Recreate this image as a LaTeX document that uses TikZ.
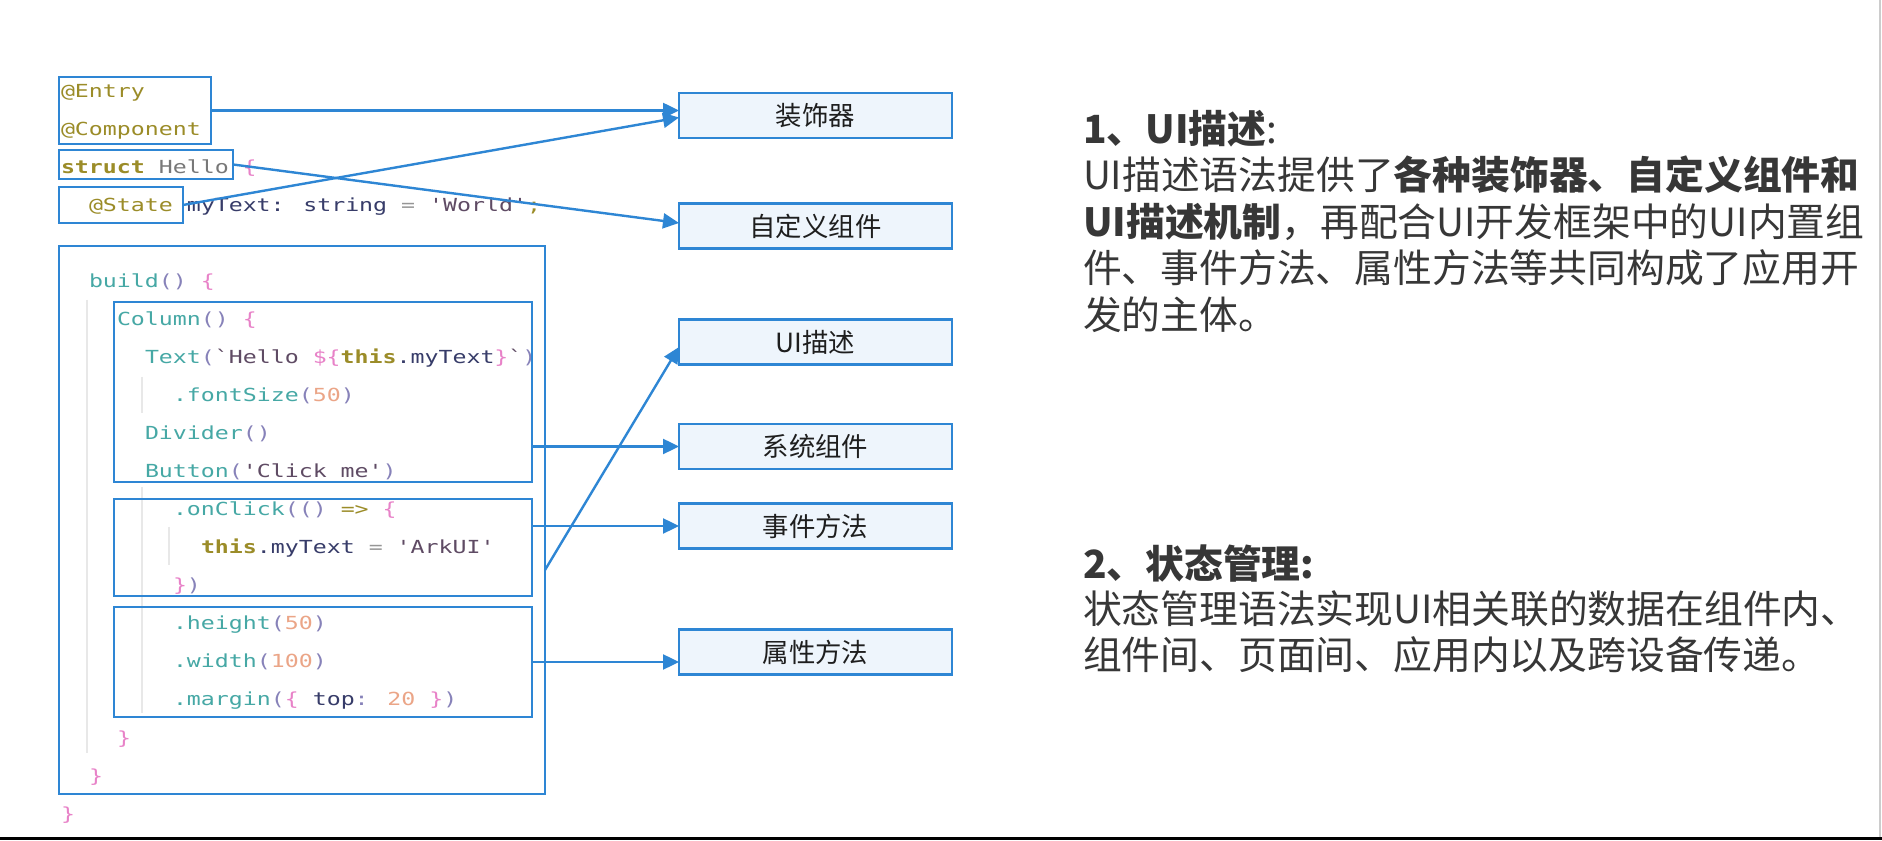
\documentclass[tikz,border=0pt]{standalone}
\usepackage{fontspec}
\setmainfont{Noto Sans CJK SC}
\newfontfamily\codefont{DejaVu Sans Mono}[FakeStretch=1.29,Ligatures=TeXOff]
\usetikzlibrary{arrows.meta}

% token colours of the code listing
\newcommand{\cK}[1]{\textcolor{kwColor}{#1}}
\newcommand{\cF}[1]{\textcolor{fnColor}{#1}}
\newcommand{\cS}[1]{\textcolor{strColor}{#1}}
\newcommand{\cI}[1]{\textcolor{idColor}{#1}}
\newcommand{\cN}[1]{\textcolor{numColor}{#1}}
\newcommand{\cB}[1]{\textcolor{braceColor}{#1}}
\newcommand{\cP}[1]{\textcolor{parenColor}{#1}}
\newcommand{\cG}[1]{\textcolor{greyColor}{#1}}
\newcommand{\cO}[1]{\textcolor{opColor}{#1}}

\begin{document}
\begin{tikzpicture}[x=1pt,y=1pt,
  codebox/.style={draw=boxColor,line width=1.4pt,inner sep=0pt,outer sep=0pt},
  labelbox/.style={draw=boxColor,fill=fillColor,line width=1.4pt,inner sep=0pt,outer sep=0pt,
    minimum width=136.5pt,minimum height=22.5pt,text=labelColor,font=\fontsize{13.2}{15}\selectfont},
  arr/.style={draw=boxColor,line width=1.2pt,-{Triangle[length=8pt,width=7.5pt]}},
  code/.style={anchor=base west,inner sep=0pt,outer sep=0pt,font=\codefont\fontsize{9}{11}\selectfont},
  para/.style={anchor=base west,inner sep=0pt,outer sep=0pt,text=textColor,font=\fontsize{19.4}{23}\selectfont},
  guide/.style={draw=guideColor,line width=1pt}]
\definecolor{bgColor}{RGB}{255,255,255}
\definecolor{boxColor}{RGB}{46,134,212}
\definecolor{fillColor}{RGB}{238,245,252}
\definecolor{labelColor}{RGB}{30,30,30}
\definecolor{textColor}{RGB}{55,55,55}
\definecolor{guideColor}{RGB}{232,232,232}
\definecolor{kwColor}{RGB}{155,140,40}
\definecolor{fnColor}{RGB}{70,168,165}
\definecolor{strColor}{RGB}{95,75,100}
\definecolor{idColor}{RGB}{55,60,105}
\definecolor{numColor}{RGB}{235,165,135}
\definecolor{braceColor}{RGB}{232,130,200}
\definecolor{parenColor}{RGB}{135,130,185}
\definecolor{greyColor}{RGB}{120,120,120}
\definecolor{opColor}{RGB}{150,150,150}
\path[use as bounding box,fill=bgColor] (0,0) rectangle (941,420);

% indent guides
\draw[guide] (43.5,270) -- (43.5,43.5);
\draw[guide] (71,231.5) -- (71,213.5);
\draw[guide] (71,176.5) -- (71,63.5);
\draw[guide] (84.5,156.5) -- (84.5,137.5);

% code listing
\node[code] (c0) at (30.5,371) {\cK{@Entry}};
\node[code] (c1) at (30.5,352) {\cK{@Component}};
\node[code] (c2) at (30.5,333) {\cK{\bfseries struct} \cG{Hello} \cB{\{}};
\node[code] (c3) at (44.5,314) {\cK{@State} \cI{myText: string} \cO{=} \cS{'World'}\cK{;}};
\node[code] (c5) at (44.5,276) {\cF{build}\cP{()} \cB{\{}};
\node[code] (c6) at (58.5,257) {\cF{Column}\cP{()} \cB{\{}};
\node[code] (c7) at (72.5,238) {\cF{Text}\cP{(}\cS{`Hello }\cB{\$\{}\cK{\bfseries this}\cI{.myText}\cB{\}}\cS{`}\cP{)}};
\node[code] (c8) at (86.5,219) {\cF{.fontSize}\cP{(}\cN{50}\cP{)}};
\node[code] (c9) at (72.5,200) {\cF{Divider}\cP{()}};
\node[code] (c10) at (72.5,181) {\cF{Button}\cP{(}\cS{'Click me'}\cP{)}};
\node[code] (c11) at (86.5,162) {\cF{.onClick}\cP{(()} \cK{=>} \cB{\{}};
\node[code] (c12) at (100.5,143) {\cK{\bfseries this}\cI{.myText} \cO{=} \cS{'ArkUI'}};
\node[code] (c13) at (86.5,124) {\cB{\}}\cP{)}};
\node[code] (c14) at (86.5,105) {\cF{.height}\cP{(}\cN{50}\cP{)}};
\node[code] (c15) at (86.5,86) {\cF{.width}\cP{(}\cN{100}\cP{)}};
\node[code] (c16) at (86.5,67) {\cF{.margin}\cP{(}\cB{\{} \cI{top}\cP{:} \cN{20} \cB{\}}\cP{)}};
\node[code] (c17) at (58.5,48) {\cB{\}}};
\node[code] (c18) at (44.5,29) {\cB{\}}};
\node[code] (c19) at (30.5,10) {\cB{\}}};

% boxes round the code
\node[codebox,minimum width=76pt,minimum height=33.5pt] (ent) at (67.5,364.75) {};
\node[codebox,minimum width=87pt,minimum height=14.5pt] (strct) at (73,337.75) {};
\node[codebox,minimum width=62pt,minimum height=18pt] (stat) at (60.5,317.5) {};
\node[codebox,minimum width=243pt,minimum height=274pt] (bld) at (151,160) {};
\node[codebox,minimum width=209pt,minimum height=90pt] (col) at (161.5,224) {};
\node[codebox,minimum width=209pt,minimum height=48.5pt] (clk) at (161.5,146.25) {};
\node[codebox,minimum width=209pt,minimum height=55pt] (attr) at (161.5,89) {};

% labels
\node[labelbox] (deco) at (407.75,362.25) {装饰器};
\node[labelbox] (cust) at (407.75,307) {自定义组件};
\node[labelbox] (ui) at (407.75,249) {UI描述};
\node[labelbox] (sys) at (407.75,196.75) {系统组件};
\node[labelbox] (evt) at (407.75,157) {事件方法};
\node[labelbox] (prop) at (407.75,94) {属性方法};

% connectors
\draw[arr] (ent.east) -- (ent.east -| deco.west);
\draw[arr] (stat.east) -- ([yshift=-1pt]deco.west);
\draw[arr] (strct.east) -- ([yshift=1.5pt]cust.west);
\draw[arr] ([yshift=-25pt]bld.east) -- ([yshift=-2.5pt]ui.west);
\draw[arr] (sys.west -| col.east) -- (sys.west);
\draw[arr] (evt.west -| clk.east) -- (evt.west);
\draw[arr] (attr.east) -- (attr.east -| prop.west);

% notes on the right
\node[para] (h1) at (541.5,348) {\textbf{1、UI描述}:};
\node[para] (p1a) at (541.5,325) {UI描述语法提供了\textbf{各种装饰器、自定义组件和}};
\node[para] (p1b) at (541.5,301.5) {\textbf{UI描述机制}，再配合UI开发框架中的UI内置组};
\node[para] (p1c) at (541.5,278.5) {件、事件方法、属性方法等共同构成了应用开};
\node[para] (p1d) at (541.5,255) {发的主体。};
\node[para] (h2) at (541.5,130.5) {\textbf{2、状态管理:}};
\node[para] (p2a) at (541.5,108) {状态管理语法实现UI相关联的数据在组件内、};
\node[para] (p2b) at (541.5,85) {组件间、页面间、应用内以及跨设备传递。};

% edges of the screen
\draw[line width=1.5pt] (0,0.75) -- (941,0.75);
\draw[line width=1pt,draw=black!20] (940,1.5) -- (940,420);
\end{tikzpicture}
\end{document}
